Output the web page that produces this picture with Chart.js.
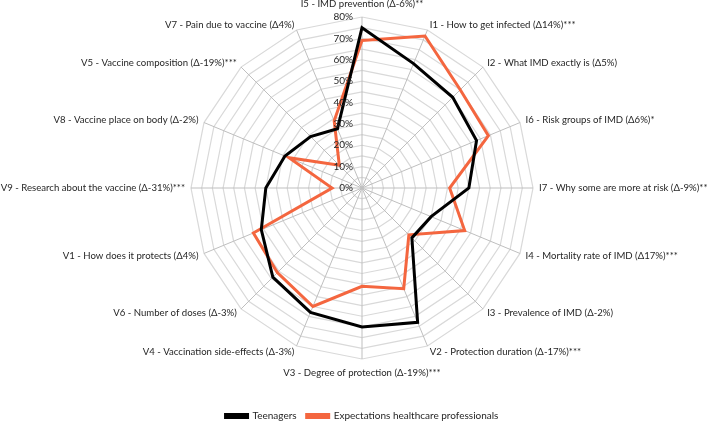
<!DOCTYPE html>
<html>
<head>
<meta charset="utf-8">
<script src="https://cdn.jsdelivr.net/npm/chart.js@4.4.1/dist/chart.umd.min.js"></script>
<style>
  html, body { margin: 0; padding: 0; background: #fff; }
  #frame { width: 709px; height: 422px; position: relative; overflow: hidden; }
  /* canvas is a bit taller and shifted up so the radar sits where the original has it */
  #wrap { width: 709px; height: 456px; position: absolute; left: 0; top: -25px; }
</style>
</head>
<body>
<div id="frame"><div id="wrap"><canvas id="radar"></canvas></div></div>
<script>
// Categories, clockwise from the top
const CATEGORIES = [
    'I5 - IMD prevention (Δ-6%)**',
    'I1 - How to get infected (Δ14%)***',
    'I2 - What IMD exactly is (Δ5%)',
    'I6 - Risk groups of IMD (Δ6%)*',
    'I7 - Why some are more at risk (Δ-9%)**',
    'I4 - Mortality rate of IMD (Δ17%)***',
    'I3 - Prevalence of IMD (Δ-2%)',
    'V2 - Protection duration (Δ-17%)***',
    'V3 - Degree of protection (Δ-19%)***',
    'V4 - Vaccination side-effects (Δ-3%)',
    'V6 - Number of doses (Δ-3%)',
    'V1 - How does it protects (Δ4%)',
    'V9 - Research about the vaccine (Δ-31%)***',
    'V8 - Vaccine place on body (Δ-2%)',
    'V5 - Vaccine composition (Δ-19%)***',
    'V7 - Pain due to vaccine (Δ4%)',
];

const TEENAGERS = [75, 63, 60, 58, 50, 35, 33, 68, 65, 63, 59, 51, 45, 39, 34, 30];
const HCP_EXPECTATIONS = [69, 77, 65, 64, 41, 52, 31, 51, 46, 60, 56, 55, 14, 37, 15, 34];

const TICK_LABELS = [0, 10, 20, 30, 40, 50, 60, 70, 80];

const FONT = 'Lato, "Open Sans", sans-serif';
const TEXT = '#262626';

// tick labels just left of the top spoke, point labels Excel-style
const radarTextPlugin = {
    id: 'radarText',
    afterDatasetsDraw(chart) {
        const r = chart.scales.r;
        const ctx = chart.ctx;
        ctx.save();
        ctx.fillStyle = TEXT;
        ctx.textBaseline = 'middle';

        ctx.font = '10px ' + FONT;
        ctx.textAlign = 'right';
        TICK_LABELS.forEach(v => {
            const d = r.getDistanceFromCenterForValue(v);
            ctx.fillText(v + '%', r.xCenter - 9, r.yCenter - d);
        });

        ctx.font = '9.6px ' + FONT;
        CATEGORIES.forEach((label, i) => {
            const p = r.getPointPosition(i, r.drawingArea + 6);
            const deg = Math.round(i * 360 / CATEGORIES.length);
            let y = p.y;
            if (deg === 0) { ctx.textAlign = 'center'; y -= 7; }
            else if (deg === 180) { ctx.textAlign = 'center'; y += 8; }
            else ctx.textAlign = deg < 180 ? 'left' : 'right';
            ctx.fillText(label, p.x, y);
        });
        ctx.restore();
    },
};

new Chart(document.getElementById('radar').getContext('2d'), {
    type: 'radar',
    data: {
        labels: CATEGORIES,
        datasets: [
            {
                label: 'Teenagers',
                data: TEENAGERS,
                borderColor: '#000000',
                backgroundColor: '#000000',
                borderWidth: 3,
                pointRadius: 0,
                fill: false,
                tension: 0,
            },
            {
                label: 'Expectations healthcare professionals',
                data: HCP_EXPECTATIONS,
                borderColor: '#f4663f',
                backgroundColor: '#f4663f',
                borderWidth: 3,
                pointRadius: 0,
                fill: false,
                tension: 0,
            },
        ],
    },
    options: {
        responsive: true,
        maintainAspectRatio: false,
        animation: false,
        layout: { padding: { top: 0, bottom: 0, left: 191, right: 176 } },
        plugins: {
            legend: {
                position: 'bottom',
                labels: {
                    font: { family: FONT, size: 10 },
                    color: TEXT,
                    boxWidth: 22,
                    boxHeight: 3,
                    padding: 10,
                },
            },
            tooltip: { enabled: false },
        },
        scales: {
            r: {
                min: 0,
                max: 80,
                ticks: { stepSize: 5, display: false },
                grid: { color: '#d9d9d9', lineWidth: 1.2 },
                angleLines: { color: '#bfbfbf', lineWidth: 1 },
                pointLabels: { display: false },
            },
        },
    },
    plugins: [radarTextPlugin],
});
</script>
</body>
</html>
